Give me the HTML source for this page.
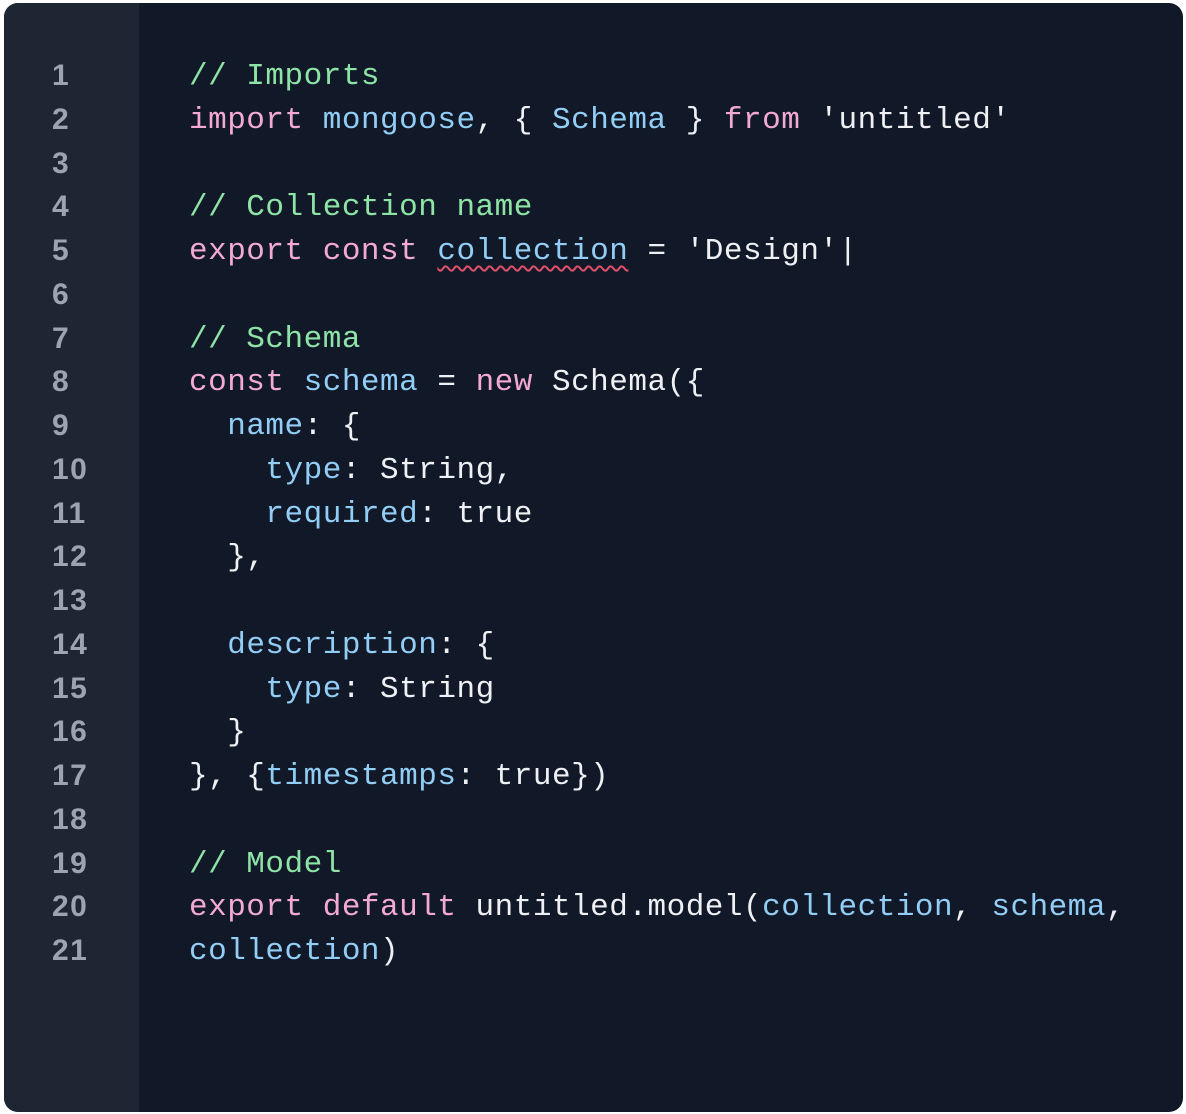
<!DOCTYPE html>
<html><head><meta charset="utf-8"><style>
html,body{margin:0;padding:0;background:#fff;width:1186px;height:1114px;overflow:hidden}
.card{position:absolute;left:4px;top:3px;width:1179px;height:1109px;border-radius:14px;background:#111827;overflow:hidden}
.gut{position:absolute;left:0;top:0;width:135px;height:100%;background:#1e2633}
.ln,.code{position:absolute;top:52px;font-family:"Liberation Mono",monospace;font-size:31px;letter-spacing:0.5px;line-height:43.75px;white-space:pre}
.ln{left:48px;top:51px;color:#9ba4b0;font-weight:bold;font-family:"Liberation Sans",sans-serif;font-size:30px;letter-spacing:1.5px}
.code{left:185px;color:#eef0f3}
.c{color:#8ee3a6}.k{color:#f2a9d3}.b{color:#92cdf5}
.sq{text-decoration:underline wavy #e0506a;text-decoration-thickness:2px;text-underline-offset:6px}
</style></head><body>
<div class="card"><div class="gut"></div>
<div class="ln">1
2
3
4
5
6
7
8
9
10
11
12
13
14
15
16
17
18
19
20
21</div>
<div class="code"><span class="c">// Imports</span>
<span class="k">import</span> <span class="b">mongoose</span>, { <span class="b">Schema</span> } <span class="k">from</span> 'untitled'

<span class="c">// Collection name</span>
<span class="k">export const</span> <span class="b sq">collection</span> = 'Design'|

<span class="c">// Schema</span>
<span class="k">const</span> <span class="b">schema</span> = <span class="k">new</span> Schema({
  <span class="b">name</span>: {
    <span class="b">type</span>: String,
    <span class="b">required</span>: true
  },

  <span class="b">description</span>: {
    <span class="b">type</span>: String
  }
}, {<span class="b">timestamps</span>: true})

<span class="c">// Model</span>
<span class="k">export default</span> untitled.model(<span class="b">collection</span>, <span class="b">schema</span>,
<span class="b">collection</span>)</div>
</div>
</body></html>
